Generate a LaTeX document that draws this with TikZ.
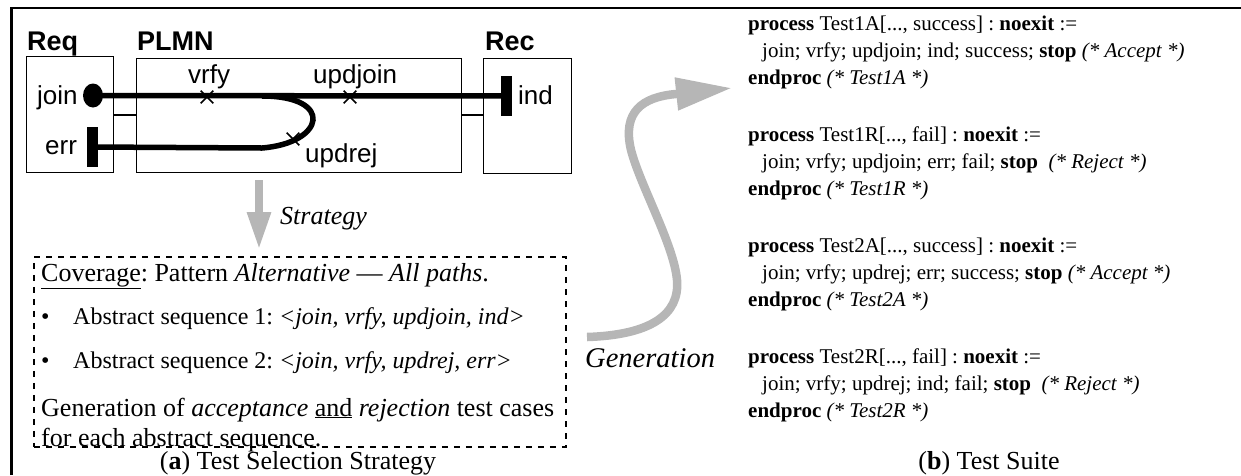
\documentclass[tikz,border=0pt]{standalone}
\usepackage{fontspec}
\setmainfont{Liberation Serif}
\setsansfont{Liberation Sans}
\usetikzlibrary{arrows.meta,shapes.misc,shapes.geometric}
\definecolor{arrowgray}{RGB}{182,182,182}
\newcommand{\fs}[1]{\fontsize{#1}{#1}\selectfont}
\frenchspacing

\begin{document}
\begin{tikzpicture}[x=1pt,y=-1pt,
  box/.style={draw,line width=1.4pt,rectangle,inner sep=0pt,anchor=north west},
  link/.style={line width=1.4pt},
  trace/.style={line width=5.5pt},
  xmark/.style={cross out,draw,line width=1.6pt,minimum size=11pt,inner sep=0pt},
  bar/.style={fill=black,inner sep=0pt,minimum width=11pt,minimum height=40pt},
  lbl/.style={font=\sffamily\fs{26},inner sep=0pt,anchor=base west},
  title/.style={font=\sffamily\bfseries\fs{27},inner sep=0pt,anchor=base west},
  txt/.style={font=\fs{26},inner sep=0pt,anchor=base west},
  seq/.style={font=\fs{24},inner sep=0pt,anchor=base west},
  code/.style={font=\fs{21},inner sep=0pt,anchor=base west},
  bigarrow/.style={draw=arrowgray,line width=8.5pt},
]
\useasboundingbox (0,0) rectangle (1241,475);

% outer frame (left and top rules)
\draw[line width=2.4pt] (11.5,475) -- (11.5,8) -- (1241,8);

% ---- (a) architecture ----
\node[box,minimum width=87pt,minimum height=116pt] (req) at (26,56) {};
\node[box,minimum width=325pt,minimum height=114pt] (plmn) at (136,58) {};
\node[box,minimum width=88pt,minimum height=115pt] (rec) at (483,58) {};

\node[title] (reqt) at (27,50) {Req};
\node[title] (plmnt) at (137,50) {PLMN};
\node[title] (rect) at (485,50) {Rec};

\coordinate (lvl) at (0,115);
\draw[link] (req.east |- lvl) -- (plmn.west |- lvl);
\draw[link] (plmn.east |- lvl) -- (rec.west |- lvl);

\node[bar] (errbar) at (92.5,147) {};
\node[bar] (indbar) at (506.5,96) {};
\node[ellipse,fill=black,inner sep=0pt,minimum width=20pt,minimum height=24pt] (joinpt) at (93,95.5) {};

\draw[trace] (joinpt.center) -- (indbar.center);
\coordinate (blo) at (262,148);
\coordinate (bhi) at (262,96);
\draw[trace] (errbar.center) -- (blo) .. controls (325,143) and (335,96) .. (bhi);

\node[xmark] (xv) at (207,97) {};
\node[xmark] (xu) at (350,97) {};
\node[xmark] (xr) at (293,139) {};

\node[lbl] (joinl) at (37,104) {join};
\node[lbl] (errl) at (45,154) {err};
\node[lbl] (indl) at (518,104) {ind};
\node[lbl] (vrfyl) at (188,83) {vrfy};
\node[lbl] (updjl) at (313,83) {updjoin};
\node[lbl] (updrl) at (305,162) {updrej};

% ---- strategy box ----
\node[draw,line width=1.5pt,dash pattern=on 6pt off 6pt,anchor=north west,
      minimum width=532pt,minimum height=190pt,inner sep=0pt] (strat) at (33,256) {};

\coordinate (sx) at (259,0);
\draw[bigarrow,-{Triangle[length=38pt,width=22pt]},shorten <=7pt,shorten >=6pt]
  (plmn.south -| sx) -- (strat.north -| sx);
\node[font=\itshape\fs{26},inner sep=0pt,anchor=base west] (stratl) at (280,224) {Strategy};

\node[txt] (cov) at (41,281) {\underline{Coverage}: Pattern \textit{Alternative} --- \textit{All paths}.};
\node[seq] (b1) at (41,324) {\textbullet};
\node[seq] (s1) at (73,324) {Abstract sequence 1: \textit{<join, vrfy, updjoin, ind>}};
\node[seq] (b2) at (41,368) {\textbullet};
\node[seq] (s2) at (73,368) {Abstract sequence 2: \textit{<join, vrfy, updrej, err>}};
\node[txt] (gen1) at (41,416) {Generation of \textit{acceptance} \underline{and} \textit{rejection} test cases};
\node[txt] (gen2) at (41,446) {for each abstract sequence.};

\node[txt,anchor=base] (capa) at (298,469) {(\textbf{a}) Test Selection Strategy};

% ---- generation arrow ----
\coordinate (gtail) at (587,337);
\coordinate (ghb) at (676,94);
\coordinate (gtip) at (732,88);
\draw[bigarrow,-{Triangle[length=56pt,width=31pt]}]
  (gtail) .. controls (650,335) and (680,315) .. (677,280)
  .. controls (674,245) and (640,185) .. (631,150)
  .. controls (622,112) and (642,97) .. (ghb) -- (gtip);
\node[font=\itshape\fs{28.5},inner sep=0pt,anchor=base west] (genl) at (585,367) {Generation};

% ---- (b) test suite ----
\node[code] (p1a) at (748,30) {\textbf{process} Test1A[..., success] : \textbf{noexit} :=};
\node[code] (p1b) at (762,57) {join; vrfy; updjoin; ind; success; \textbf{stop} \textit{(* Accept *)}};
\node[code] (p1c) at (748,84) {\textbf{endproc} \textit{(* Test1A *)}};

\node[code] (p2a) at (748,141) {\textbf{process} Test1R[..., fail] : \textbf{noexit} :=};
\node[code] (p2b) at (762,168) {join; vrfy; updjoin; err; fail; \textbf{stop}\ \ \textit{(* Reject *)}};
\node[code] (p2c) at (748,195) {\textbf{endproc} \textit{(* Test1R *)}};

\node[code] (p3a) at (748,252) {\textbf{process} Test2A[..., success] : \textbf{noexit} :=};
\node[code] (p3b) at (762,279) {join; vrfy; updrej; err; success; \textbf{stop} \textit{(* Accept *)}};
\node[code] (p3c) at (748,306) {\textbf{endproc} \textit{(* Test2A *)}};

\node[code] (p4a) at (748,363) {\textbf{process} Test2R[..., fail] : \textbf{noexit} :=};
\node[code] (p4b) at (762,390) {join; vrfy; updrej; ind; fail; \textbf{stop}\ \ \textit{(* Reject *)}};
\node[code] (p4c) at (748,417) {\textbf{endproc} \textit{(* Test2R *)}};

\node[txt,anchor=base] (capb) at (989,469) {(\textbf{b}) Test Suite};
\end{tikzpicture}
\end{document}
